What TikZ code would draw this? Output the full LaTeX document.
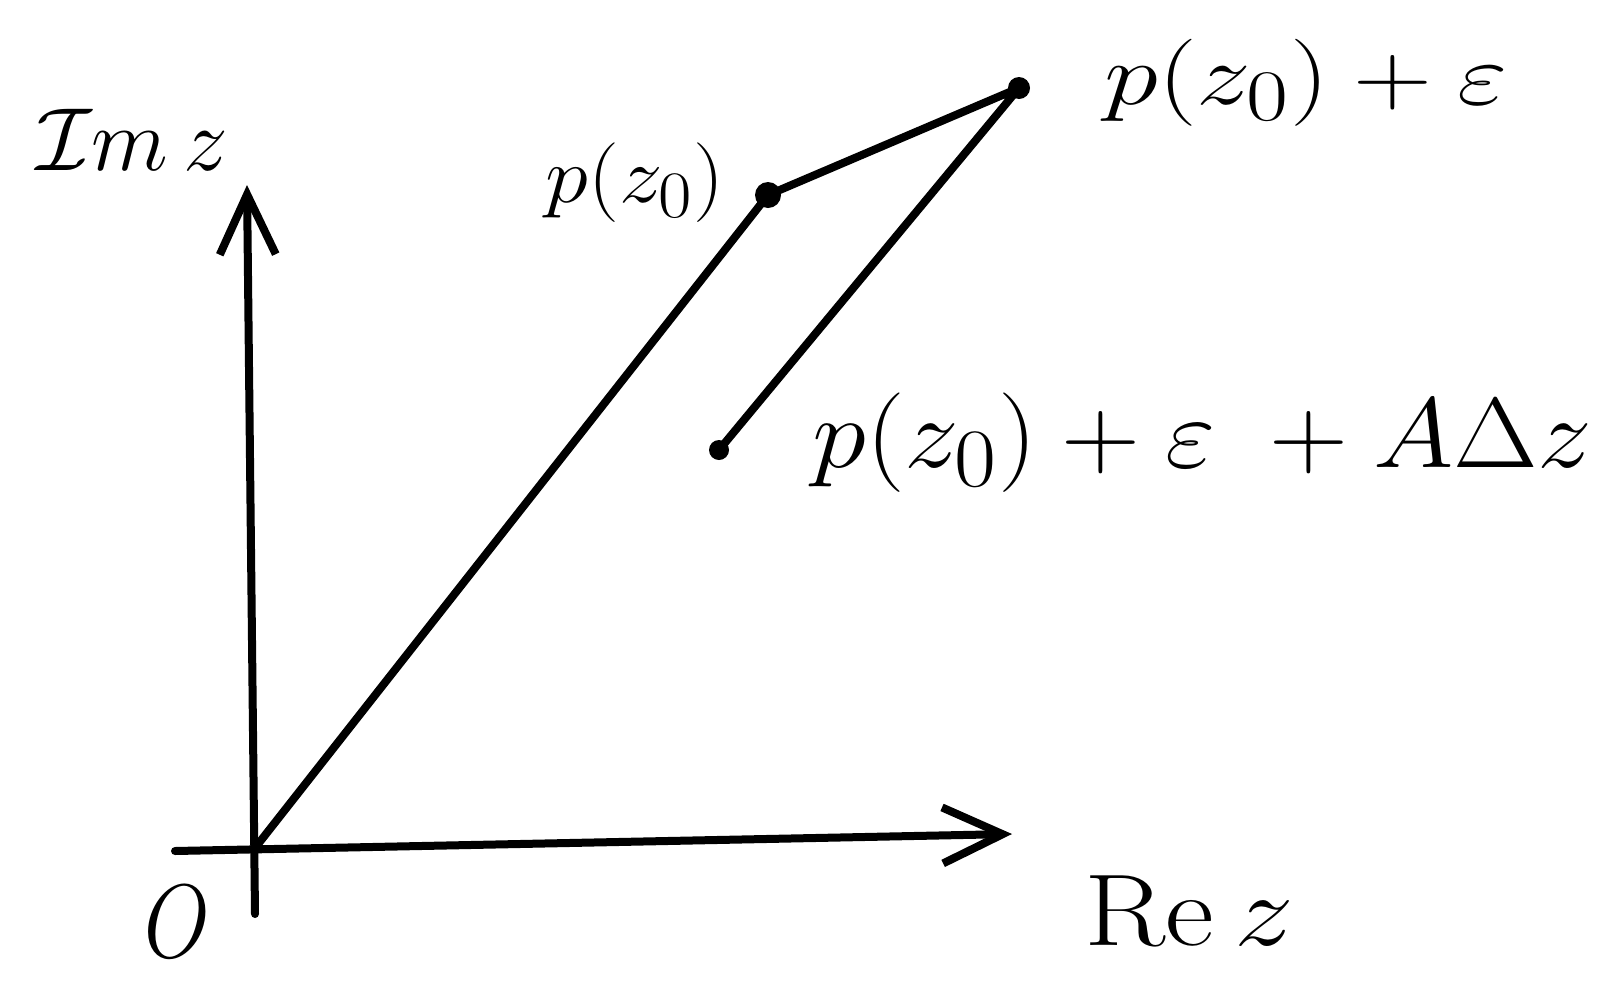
\documentclass[tikz,border=0pt]{standalone}
\usetikzlibrary{arrows.meta}
\begin{document}
\begin{tikzpicture}[x=0.5pt,y=-0.5pt,
  stroke/.style={line width=4pt,line cap=round,line join=round},
  axisarrow/.style={stroke,-{Straight Barb[length=30pt,width=28pt,line width=4pt]}},
  dotpt/.style={circle,fill=black,inner sep=0pt,minimum size=#1},
  lbl/.style={inner sep=0pt,anchor=base west,font=\Huge}]
\useasboundingbox (0,0) rectangle (1611,980);
\coordinate (O) at (255,848);
\coordinate (ybot) at (255,914);
\coordinate (ytop) at (247,185);
\coordinate (xleft) at (175,851);
\coordinate (xright) at (1012,834);
\node[dotpt=13pt] (P0) at (768,195) {};
\node[dotpt=11pt] (P1) at (1019,88) {};
\node[dotpt=10pt] (P2) at (719,450) {};
\draw[axisarrow] (ybot) -- (ytop);
\draw[axisarrow] (xleft) -- (xright);
\draw[stroke] (O) -- (P0.center) -- (P1.center) -- (P2.center);
\node[lbl] (limz) at (36,170) {\scalebox{1.8}[1.8]{$\mathcal{I}m\,z$}};
\node[lbl] (lp0) at (545,202) {\scalebox{1.75}[1.6]{$p(z_0)$}};
\node[lbl] (lp1) at (1104,104) {\scalebox{2.2}[1.75]{$p(z_0)+\varepsilon$}};
\node[lbl] (lp2) at (812,467) {\scalebox{2.2}[2.0]{$p(z_0)+\varepsilon\;+A\Delta z$}};
\node[lbl] (lrez) at (1084,945) {\scalebox{2.4}[2.05]{$\mathrm{Re}\,z$}};
\node[inner sep=0pt,font=\Huge] (lO) at (177,922) {\scalebox{1.7}[2.1]{$O$}};
\end{tikzpicture}
\end{document}
